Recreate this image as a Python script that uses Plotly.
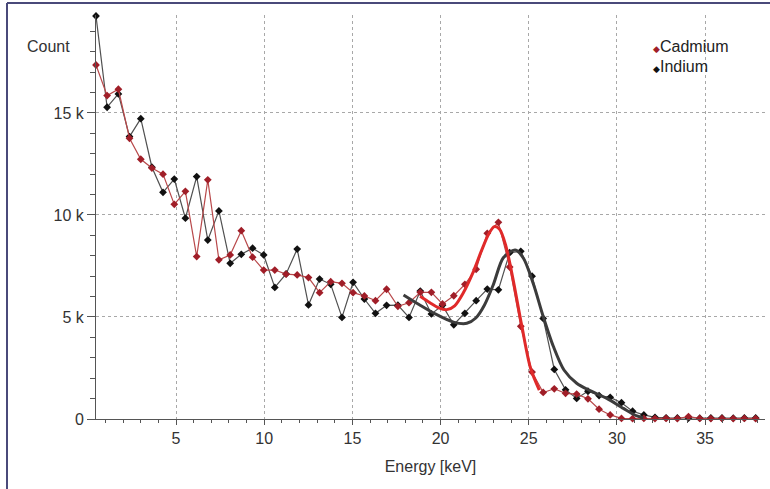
import plotly.graph_objects as go

energy = [0.46, 1.09, 1.73, 2.36, 3.00, 3.63, 4.26, 4.90, 5.53, 6.17,
          6.80, 7.43, 8.07, 8.70, 9.34, 9.97, 10.60, 11.24, 11.87, 12.51,
          13.14, 13.77, 14.41, 15.04, 15.68, 16.31, 16.94, 17.58, 18.21, 18.85,
          19.48, 20.11, 20.75, 21.38, 22.02, 22.65, 23.28, 23.92, 24.55, 25.19,
          25.82, 26.45, 27.09, 27.72, 28.36, 28.99, 29.62, 30.26, 30.89, 31.53,
          32.16, 32.79, 33.43, 34.06, 34.70, 35.33, 35.96, 36.60, 37.23, 37.87]

cadmium = [17350, 15850, 16160, 13760, 12730, 12300, 12000, 10520, 11160, 7960,
           11720, 7800, 8040, 9230, 7930, 7300, 7300, 7100, 7060, 6930,
           6190, 6730, 6650, 6190, 6030, 5800, 6360, 5520, 5700, 6210,
           6210, 5640, 6040, 6600, 7340, 9100, 9640, 7450, 4540, 2300,
           1300, 1480, 1260, 1220, 990, 480, 200, 30, 20, 30,
           20, 30, 20, 120, 30, 20, 30, 20, 30, 20]

indium = [19750, 15280, 15930, 13840, 14720, 12340, 11110, 11760, 9840, 11880,
          8770, 10200, 7630, 8070, 8370, 8040, 6450, 7110, 8330, 5590,
          6860, 6600, 4980, 6700, 5880, 5180, 5570, 5580, 4980, 6270,
          5150, 5570, 4620, 5180, 5800, 6370, 6330, 8150, 8220, 7000,
          4930, 2430, 1430, 1010, 1360, 1150, 1060, 800, 380, 200,
          80, 60, 50, 50, 40, 50, 50, 40, 50, 50]

cd_fit_e = [18.84, 19.4, 19.9, 20.35, 20.8, 21.3, 21.8, 22.3, 22.75, 23.05,
            23.35, 23.7, 24.1, 24.6, 25.1, 25.6]
cd_fit_c = [6020, 5700, 5450, 5360, 5550, 6200, 7100, 8200, 9100, 9430,
            9300, 8500, 6900, 4600, 2500, 1420]

in_fit_e = [17.9, 18.8, 19.7, 20.73, 21.49, 22.0, 22.5, 23.0, 23.56, 24.23,
            24.7, 25.27, 25.83, 26.4, 27.0, 27.72, 28.48, 29.43, 30.37, 31.13, 31.5]
in_fit_c = [6080, 5600, 5150, 4750, 4690, 4950, 5600, 6600, 7900, 8280,
            7880, 6600, 5000, 3550, 2400, 1750, 1390, 1010, 520, 150, 60]

x_ticks = [5, 10, 15, 20, 25, 30, 35]
y_tickvals = [0, 5000, 10000, 15000]
y_ticktext = ["0", "5 k", "10 k", "15 k"]

RED_LINE = "#b8484a"
RED_MARK = "#a01e28"
RED_FIT = "#e02a2a"
BLK_LINE = "#505050"
BLK_MARK = "#111111"
BLK_FIT = "#3c3c3c"
FONT = "Liberation Sans, Arial, sans-serif"

fig = go.Figure()

fig.add_trace(go.Scatter(x=energy, y=indium, mode="lines+markers",
                         line=dict(color=BLK_LINE, width=1.2),
                         marker=dict(symbol="diamond", size=6, color=BLK_MARK),
                         showlegend=False, cliponaxis=False, name="Indium"))
fig.add_trace(go.Scatter(x=energy, y=cadmium, mode="lines+markers",
                         line=dict(color=RED_LINE, width=1.2),
                         marker=dict(symbol="diamond", size=6, color=RED_MARK),
                         showlegend=False, cliponaxis=False, name="Cadmium"))
fig.add_trace(go.Scatter(x=in_fit_e, y=in_fit_c, mode="lines",
                         line=dict(color=BLK_FIT, width=3, shape="spline", smoothing=0.8),
                         showlegend=False, name="Indium fit"))
fig.add_trace(go.Scatter(x=cd_fit_e, y=cd_fit_c, mode="lines",
                         line=dict(color=RED_FIT, width=3, shape="spline", smoothing=0.8),
                         showlegend=False, name="Cadmium fit"))

axis_common = dict(showline=True, linecolor="#555555", linewidth=1,
                   showgrid=True, gridcolor="#a8a8a8", griddash="dot", gridwidth=1,
                   zeroline=False, ticks="outside", tickcolor="#555555",
                   tickfont=dict(family=FONT, size=16, color="#333333"))

fig.update_xaxes(range=[0.46, 38.4], tickvals=x_ticks, ticklen=5,
                 minor=dict(dtick=1, ticks="outside", ticklen=3, tickcolor="#555555", showgrid=False),
                 title=dict(text="Energy [keV]", font=dict(family=FONT, size=16, color="#333333"),
                            standoff=14),
                 **axis_common)
fig.update_yaxes(range=[0, 19800], tickvals=y_tickvals, ticktext=y_ticktext, ticklen=8,
                 minor=dict(dtick=1000, ticks="outside", ticklen=5, tickcolor="#555555", showgrid=False),
                 **axis_common)

fig.add_annotation(text="Count", xref="paper", yref="paper", x=-0.106, y=0.921,
                   xanchor="left", yanchor="middle", showarrow=False,
                   font=dict(family=FONT, size=16, color="#333333"))

fig.add_annotation(text="<span style='color:%s;font-size:9px'>◆</span>Cadmium" % RED_MARK,
                   xref="paper", yref="paper", x=(651 - 96) / 669, y=(419 - 47) / 404,
                   xanchor="left", yanchor="middle", showarrow=False,
                   font=dict(family=FONT, size=16, color="#222222"))
fig.add_annotation(text="<span style='color:%s;font-size:9px'>◆</span>Indium" % BLK_MARK,
                   xref="paper", yref="paper", x=(651 - 96) / 669, y=(419 - 66) / 404,
                   xanchor="left", yanchor="middle", showarrow=False,
                   font=dict(family=FONT, size=16, color="#222222"))

# frame
fx0 = (7 - 96) / 669
fy_top = (419 - 3) / 404
fy_bot = (419 - 489) / 404
fx1 = (770 - 96) / 669
fig.add_shape(type="line", xref="paper", yref="paper", x0=fx0, x1=fx0, y0=fy_bot, y1=fy_top,
              line=dict(color="#4a4a7a", width=2))
fig.add_shape(type="line", xref="paper", yref="paper", x0=fx0, x1=fx1, y0=fy_top, y1=fy_top,
              line=dict(color="#4a4a7a", width=2))

fig.update_layout(width=770, height=489, margin=dict(l=96, r=5, t=15, b=70),
                  paper_bgcolor="white", plot_bgcolor="white", showlegend=False)

fig.write_html("out.html")
